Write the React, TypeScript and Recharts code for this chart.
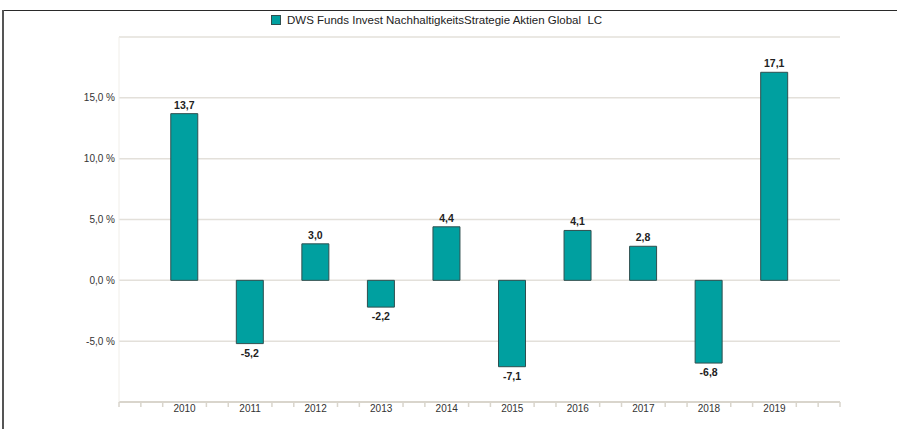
import React from "react";
import { BarChart, Bar, XAxis, YAxis, CartesianGrid, LabelList } from "recharts";

const years = [2010, 2011, 2012, 2013, 2014, 2015, 2016, 2017, 2018, 2019];
const returns = [13.7, -5.2, 3.0, -2.2, 4.4, -7.1, 4.1, 2.8, -6.8, 17.1];
const yTicks = [-10, -5, 0, 5, 10, 15, 20];
const yLabelled = [-5, 0, 5, 10, 15];
const seriesName = "DWS Funds Invest NachhaltigkeitsStrategie Aktien Global  LC";

const data = years.map((y, i) => ({ year: y, value: returns[i] }));

// x-axis minor tick positions: every third of a year across the domain
const xTicks: number[] = [];
for (let k = 0; k <= 33; k++) xTicks.push(2009 + k / 3);

const FONT = "Liberation Sans, Arial, Helvetica, sans-serif";
const fmt = (v: number) => v.toFixed(1).replace(".", ",");

const XTick = (props: any) => {
  const { x, y, payload } = props;
  const v = payload.value;
  const r = Math.round(v);
  const isYear = Math.abs(v - r) < 0.01 && r >= 2010 && r <= 2019;
  if (isYear) {
    return (
      <text x={x} y={y + 10} textAnchor="middle" fontSize={10} fill="#333" fontFamily={FONT}>
        {r}
      </text>
    );
  }
  return <line x1={x} x2={x} y1={y} y2={y + 5} stroke="#d9d5cc" strokeWidth={1.5} />;
};

const YTick = (props: any) => {
  const { x, y, payload } = props;
  if (!yLabelled.includes(payload.value)) return null;
  return (
    <text x={x} y={y + 3.5} textAnchor="end" fontSize={10} fill="#333" fontFamily={FONT}>
      {fmt(payload.value) + " %"}
    </text>
  );
};

const ValueLabel = (props: any) => {
  const { x, y, width, height, value } = props;
  const neg = value < 0;
  const cx = x + width / 2;
  const top = Math.min(y, y + height);
  const bottom = Math.max(y, y + height);
  return (
    <text
      x={cx}
      y={neg ? bottom + 13 : top - 5}
      textAnchor="middle"
      fontSize={10.5}
      fontWeight="bold"
      fill="#222"
      fontFamily={FONT}
    >
      {fmt(value)}
    </text>
  );
};

export default function App() {
  return (
    <div style={{ position: "absolute", left: 0, top: 0, width: 897, height: 429, background: "#fff", fontFamily: FONT }}>
      <div style={{ position: "absolute", left: 2, top: 10, width: 895, height: 0, borderTop: "1.5px solid #2a2a2a" }} />
      <div style={{ position: "absolute", left: 2, top: 10, width: 0, height: 419, borderLeft: "2px solid #555" }} />
      <div
        style={{
          position: "absolute",
          left: 271,
          top: 14,
          display: "flex",
          alignItems: "center",
          fontSize: 11.5,
          color: "#222",
          whiteSpace: "pre",
        }}
      >
        <span style={{ display: "inline-block", width: 8, height: 8, background: "#00a0a0", border: "1px solid #2f4f4f", marginRight: 6 }} />
        <span>{seriesName}</span>
      </div>
      <BarChart
        width={897}
        height={429}
        data={data}
        margin={{ top: 37, right: 57, bottom: 0, left: 0 }}
        style={{ position: "absolute", left: 0, top: 0 }}
      >
        <CartesianGrid vertical={false} stroke="#e3e0da" strokeWidth={1.5} />
        <XAxis
          dataKey="year"
          type="number"
          domain={[2009, 2020]}
          ticks={xTicks}
          interval={0}
          height={27}
          tickLine={false}
          tickSize={0}
          tickMargin={0}
          axisLine={{ stroke: "#d9d5cc", strokeWidth: 2 }}
          tick={<XTick />}
          allowDataOverflow
        />
        <YAxis
          type="number"
          domain={[-10, 20]}
          ticks={yTicks}
          interval={0}
          width={119}
          tickLine={false}
          tickSize={0}
          tickMargin={4}
          axisLine={{ stroke: "#f0eee9" }}
          tick={<YTick />}
        />
        <Bar dataKey="value" fill="#00a0a0" stroke="#2f4f4f" strokeWidth={1} barSize={27} isAnimationActive={false}>
          <LabelList dataKey="value" content={<ValueLabel />} />
        </Bar>
      </BarChart>
    </div>
  );
}
